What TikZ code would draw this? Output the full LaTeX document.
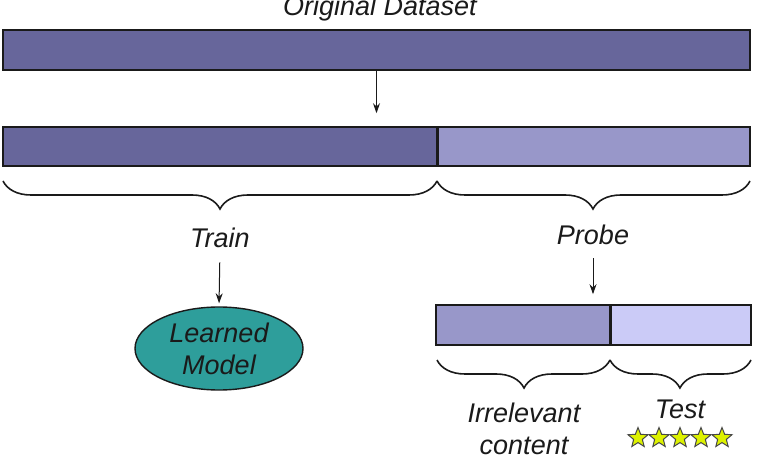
\documentclass[tikz,border=0pt]{standalone}
\usepackage{fontspec}
\setmainfont{Liberation Sans}
\usetikzlibrary{shapes.geometric,arrows.meta,decorations.pathreplacing}
\definecolor{bardark}{HTML}{67669B}
\definecolor{barmid}{HTML}{9897C9}
\definecolor{barlight}{HTML}{CBCBF7}
\definecolor{teal}{HTML}{2E9E9B}
\definecolor{starfill}{HTML}{DDF200}
\definecolor{ink}{HTML}{1A1A1A}
\tikzset{
  bar/.style={draw=ink, line width=1.6pt, inner sep=0pt, rectangle},
  lbl/.style={font={\fontsize{27}{32}\selectfont\itshape}, text=ink, inner sep=0pt},
  arr/.style={draw=ink, line width=1pt, -{Stealth[length=10pt,width=7pt]}},
  brc/.style={draw=ink, line width=1.6pt, decorate, decoration={brace, mirror, amplitude=28pt}},
  staricon/.style={star, star points=5, star point ratio=2.3, minimum size=21pt, inner sep=0pt, fill=starfill, draw=ink!80, line width=1pt}
}
\begin{document}
\begin{tikzpicture}[x=1pt,y=1pt]
\useasboundingbox (0,0) rectangle (758,469);
% top label
\node[lbl, anchor=base] (orig) at (380,453) {Original Dataset};
% bars
\node[bar, fill=bardark, minimum width=747pt, minimum height=40pt] (bar1) at (376.5,419) {};
\node[bar, fill=bardark, minimum width=434pt, minimum height=39pt] (bar2a) at (220,322.5) {};
\node[bar, fill=barmid, minimum width=313pt, minimum height=39pt] (bar2b) at (593.5,322.5) {};
\node[bar, fill=barmid, minimum width=174pt, minimum height=40pt] (bar3a) at (523,144) {};
\node[bar, fill=barlight, minimum width=141pt, minimum height=40pt] (bar3b) at (680.5,144) {};
\draw[ink, line width=1.6pt] (bar2a.north east) -- (bar2a.south east);
\draw[ink, line width=1.6pt] (bar3a.north east) -- (bar3a.south east);
% arrow between bars
\draw[arr, shorten >=13pt] (bar1.south) -- (bar1.south |- bar2a.north);
% braces row 2
\coordinate (b2l) at (3,288);
\coordinate (b2m) at (437,288);
\coordinate (b2r) at (750,288);
\draw[brc, decoration={aspect=0.5}] (b2l) -- (b2m);
\draw[brc, decoration={aspect=0.4984}] (b2m) -- (b2r);
% labels
\node[lbl, anchor=base] (train) at (220,221) {Train};
\node[lbl, anchor=base] (probe) at (593,224) {Probe};
% learned model
\node[ellipse, draw=ink, line width=1.4pt, fill=teal, minimum width=168pt, minimum height=83pt, inner sep=0pt, lbl, align=center] (model) at (219,120.5) {Learned\\Model};
\draw[arr, shorten <=14pt, shorten >=3pt] (train.south) -- (model.north);
\draw[arr, shorten <=13pt, shorten >=10pt] (probe.south) -- (probe.south |- bar3a.north);
% braces row 3
\coordinate (b3l) at (437,109);
\coordinate (b3m) at (610,109);
\coordinate (b3r) at (751,109);
\draw[brc, decoration={aspect=0.503}] (b3l) -- (b3m);
\draw[brc, decoration={aspect=0.496}] (b3m) -- (b3r);
% bottom labels
\node[lbl, align=center] (irr) at (524,40.3) {Irrelevant\\content};
\node[lbl, anchor=base] (test) at (680,51) {Test};
% stars
\foreach \i/\x in {1/638,2/659,3/680,4/701,5/722}{
  \node[staricon] (s\i) at (\x,31) {};
}
\end{tikzpicture}
\end{document}
